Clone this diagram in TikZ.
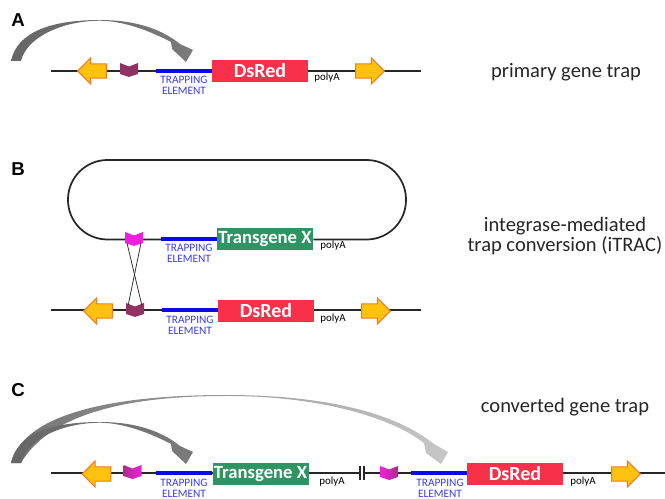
\documentclass[tikz,border=0pt]{standalone}
\usepackage{fontspec}
\setmainfont{Carlito}
\newfontfamily\panelfont{Liberation Sans}
\usetikzlibrary{arrows,positioning,calc,shapes.arrows}
\definecolor{dsred}{HTML}{F9304A}
\definecolor{tgreen}{HTML}{2E9464}
\definecolor{trapblue}{HTML}{0A0AE6}
\definecolor{labelblue}{HTML}{3A3AEE}
\definecolor{sitedark}{HTML}{913263}
\definecolor{sitepink}{HTML}{F01FE0}
\definecolor{arrowfill}{HTML}{FFC20E}
\definecolor{arrowline}{HTML}{F47A20}
\begin{document}
\begin{tikzpicture}[x=0.75pt,y=-0.75pt]
\tikzset{backbone/.style={draw=black!85,line width=1.1pt}}
\tikzset{trapline/.style={draw=trapblue,line width=2.4pt}}
\tikzset{genebox/.style={minimum width=72pt,minimum height=16.5pt,inner sep=0pt,text=white,font=\fontsize{14}{15}\selectfont\bfseries}}
\tikzset{redbox/.style={genebox,fill=dsred,font=\fontsize{15}{16}\selectfont\bfseries}}
\tikzset{traplabel/.style={align=center,text=labelblue,inner sep=0pt,font=\fontsize{8.5}{8}\selectfont}}
\tikzset{polya/.style={inner sep=0pt,font=\fontsize{8.2}{9}\selectfont}}
\tikzset{sidetext/.style={align=center,inner sep=0pt,text=black!85,font=\fontsize{15.4}{15}\selectfont}}
\tikzset{panel/.style={inner sep=0pt,font=\panelfont\fontsize{14}{15}\selectfont\bfseries}}
\tikzset{lox/.style={single arrow,draw=arrowline,fill=arrowfill,line width=.8pt,minimum height=21.5pt,inner ysep=4.9pt,inner xsep=0pt,single arrow head extend=4.4pt}}
\tikzset{loxleft/.style={lox,shape border rotate=180}}
\tikzset{pics/sitemark/.style={code={
\path[#1] (-9,-7) -- (0,-3.5) -- (9,-7) -- (9,4) -- (0,7) -- (-9,4) -- cycle;
\coordinate (-tl) at (-7,4);
\coordinate (-tr) at (7,4);
\coordinate (-bl) at (-7,-4);
\coordinate (-br) at (7,-4);
}}}
\tikzset{pics/swoop/.style={code={
\shade[left color=black!60,middle color=black!42,right color=black!52]
(0,0) .. controls (6,-29) and (40,-41) .. (89,-41) .. controls (120,-41) and (148,-34) .. (169,-17)
-- (182,-11) -- (175,1) -- (161,-12) -- (160,-19)
.. controls (137,-31) and (112,-40) .. (89,-40.3) .. controls (48,-40) and (15,-22) .. (10,0) -- cycle;
}}}
\useasboundingbox (0,0) rectangle (665,499);

\node[panel] (panelA) at (18,20) {A};
\node[panel] (panelB) at (18,169) {B};
\node[panel] (panelC) at (18,390) {C};

\node[sidetext] (textA) at (566,72) {primary gene trap};
\node[sidetext] (textB) at (565,236) {integrase-mediated\\trap conversion (iTRAC)};
\node[sidetext] (textC) at (565,407) {converted gene trap};

% A
\coordinate (startA) at (51,71);
\coordinate (endA) at (421,71);
\coordinate (trapA) at (156,71);
\draw[backbone] (startA) -- (endA);
\node[redbox] (boxA) at (260,71) {DsRed\hspace{4pt}};
\draw[trapline] (trapA) -- (trapA -| boxA.west);
\node[traplabel] (labelA) at (184,85) {TRAPPING\\ELEMENT};
\node[polya] (polyA) at (327,78) {polyA};
\node[loxleft] (loxA1) at (95.5,71) {};
\node[lox] (loxA2) at (366.5,71) {};
\pic (siteA) at (129,70) {sitemark={fill=sitedark}};
\pic (arcA) at (11,61) {swoop};

% B
\coordinate (loopB) at (161,239);
\node[genebox,fill=tgreen] (boxB1) at (265,239.5) {Transgene X};
\draw[backbone,line width=1.3pt,rounded corners=29.6pt] (boxB1.east) -- (406,239.5) -- (406,160) -- (68,160) -- (68,239.5) -- (boxB1.west);
\draw[trapline] (loopB) -- (loopB -| boxB1.west);
\node[traplabel] (labelB1) at (189,253) {TRAPPING\\ELEMENT};
\node[polya] (polyB1) at (333,246) {polyA};

\coordinate (startB) at (51,310);
\coordinate (endB) at (421,310);
\coordinate (trapB) at (162,310);
\draw[backbone] (startB) -- (endB);
\node[redbox] (boxB2) at (266,311) {DsRed\hspace{4pt}};
\draw[trapline] (trapB) -- (trapB -| boxB2.west);
\node[traplabel] (labelB2) at (190,325) {TRAPPING\\ELEMENT};
\node[polya] (polyB2) at (333,319) {polyA};
\node[loxleft] (loxB1) at (101.5,311) {};
\node[lox] (loxB2) at (372.5,311) {};
\pic (siteB1) at (134,239) {sitemark={fill=sitepink}};
\pic (siteB2) at (135,310) {sitemark={fill=sitedark}};
\draw[black!80,line width=.6pt] (siteB1-tl) -- (siteB2-br);
\draw[black!80,line width=.6pt] (siteB1-tr) -- (siteB2-bl);

% C
\coordinate (startC) at (51,473);
\coordinate (breakC1) at (360,473);
\coordinate (breakC2) at (364,473);
\coordinate (endC) at (665,473);
\coordinate (trapC1) at (156,473);
\coordinate (trapC2) at (411,473);
\draw[backbone] (startC) -- (breakC1);
\draw[backbone] (breakC2) -- (endC);
\draw[black!85,line width=.8pt] ($(breakC1)+(0,-7)$) -- ($(breakC1)+(0,7)$);
\draw[black!85,line width=.8pt] ($(breakC2)+(0,-7)$) -- ($(breakC2)+(0,7)$);
\node[genebox,fill=tgreen] (boxC1) at (260.5,474) {Transgene X};
\node[redbox] (boxC2) at (515,474) {DsRed\hspace{4pt}};
\draw[trapline] (trapC1) -- (trapC1 -| boxC1.west);
\draw[trapline] (trapC2) -- (trapC2 -| boxC2.west);
\node[traplabel] (labelC1) at (184,488) {TRAPPING\\ELEMENT};
\node[traplabel] (labelC2) at (440,488) {TRAPPING\\ELEMENT};
\node[polya] (polyC1) at (332,482) {polyA};
\node[polya] (polyC2) at (583,482) {polyA};
\node[loxleft] (loxC1) at (100,474) {};
\node[lox] (loxC2) at (622.5,474) {};
\pic (siteC1) at (132.5,472) {sitemark={left color=sitedark!70!sitepink,right color=sitepink}};
\pic (siteC2) at (389,473) {sitemark={left color=sitepink,right color=sitedark!70!sitepink}};
\coordinate (fromC) at (11,463);
\coordinate (tipC) at (441,464);
\shade[left color=black!55,middle color=black!25,right color=black!22]
(fromC) .. controls (25,410) and (125,395) .. (225,395) .. controls (320,395) and (393,411) .. (434,444)
-- (448,452) -- (tipC) -- (426,453) -- (424,443)
.. controls (392,418) and (320,395.5) .. (225,396) .. controls (130,396) and (50,413) .. (21,463) -- cycle;
\pic (arcC) at (fromC) {swoop};
\end{tikzpicture}
\end{document}
